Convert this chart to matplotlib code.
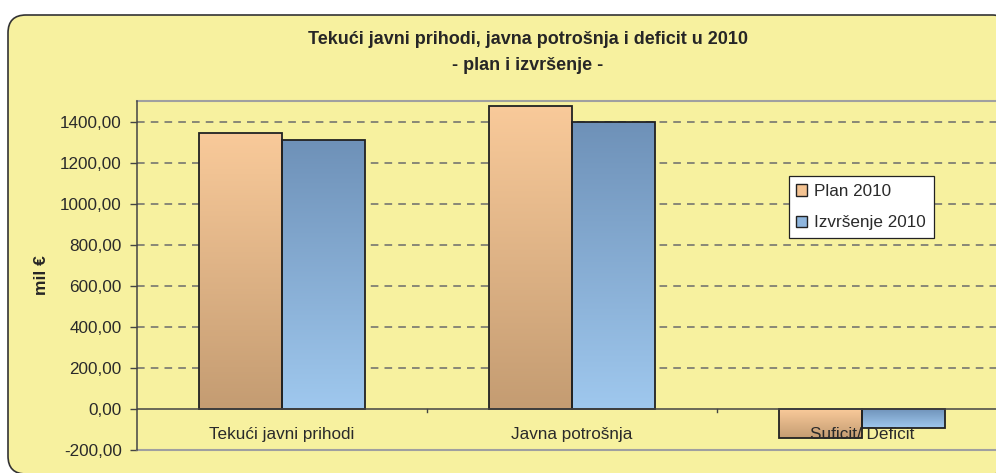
import numpy as np
import matplotlib
matplotlib.use('Agg')
import matplotlib.pyplot as plt
from matplotlib.patches import FancyBboxPatch, Patch
from matplotlib.colors import LinearSegmentedColormap

plt.rcParams['font.family'] = ['Liberation Sans', 'DejaVu Sans']

# data (mil EUR)
categories = ['Tekući javni prihodi', 'Javna potrošnja', 'Suficit/ Deficit']
plan_2010 = [1345, 1478, -140]
izvrsenje_2010 = [1312, 1398, -93]
series_names = ['Plan 2010', 'Izvršenje 2010']
y_ticks = [-200, 0, 200, 400, 600, 800, 1000, 1200, 1400]

W, H = 996, 473
fig = plt.figure(figsize=(W / 100, H / 100), dpi=100)
fig.patch.set_facecolor('white')

# rounded yellow chart area
bg = FancyBboxPatch((8, -1), 1002, 459, boxstyle='round,pad=0,rounding_size=18',
                    transform=None, facecolor='#f7f19f', edgecolor='#333333',
                    linewidth=1.2, zorder=-5)
fig.patches.append(bg)

ax = fig.add_axes([137 / W, 1 - 450 / H, 869.7 / W, 349 / H])
ax.set_facecolor('none')
ax.set_zorder(2)

plan_cmap = LinearSegmentedColormap.from_list('plan', ['#f9ca9a', '#c49c72'])
izv_cmap = LinearSegmentedColormap.from_list('izv', ['#6e91b8', '#9fc8ee'])


def gradient_bars(ax, x, heights, width, cmap):
    bars = ax.bar(x, heights, width=width, facecolor='none',
                  edgecolor='#222222', linewidth=1.3, zorder=3)
    grad = np.linspace(0, 1, 256).reshape(-1, 1)
    for b in bars:
        x0, y0 = b.get_x(), b.get_y()
        w, h = b.get_width(), b.get_height()
        top, bot = max(y0, y0 + h), min(y0, y0 + h)
        im = ax.imshow(grad, cmap=cmap, aspect='auto', origin='upper',
                       extent=[x0, x0 + w, bot, top], zorder=2)
        im.set_clip_path(b)
    return bars


xc = np.arange(len(categories))
bw = 0.286
gradient_bars(ax, xc - bw / 2, plan_2010, bw, plan_cmap)
gradient_bars(ax, xc + bw / 2, izvrsenje_2010, bw, izv_cmap)

ax.set_xlim(-0.5, len(categories) - 0.5)
ax.set_ylim(-200, 1500)

# dashed gridlines
for t in y_ticks:
    if t > 0:
        ax.axhline(t, color='#6b6b6b', linewidth=1.1, linestyle=(0, (5, 4)), zorder=1)
ax.axhline(0, color='#444444', linewidth=1.1, zorder=4)

ax.set_yticks(y_ticks)
ax.set_yticklabels(['{:.2f}'.format(t).replace('.', ',') for t in y_ticks])
ax.tick_params(axis='y', direction='out', length=5, width=1, color='#444444',
               labelsize=12.3, labelcolor='#2a2a2a', pad=6)
ax.set_xticks([])

# category boundary ticks on the zero line
for b in np.arange(0.5, len(categories) - 0.5, 1):
    ax.plot([b, b], [0, -14], color='#444444', linewidth=1, zorder=4)

for x, lab in zip(xc, categories):
    ax.annotate(lab, (x, 0), xytext=(0, -18.5), textcoords='offset points',
                ha='center', va='center', fontsize=12.3, color='#2a2a2a', zorder=6)

for side in ['top', 'bottom', 'right']:
    ax.spines[side].set_color('#a0a0a0')
    ax.spines[side].set_linewidth(1.5)
ax.spines['left'].set_color('#444444')
ax.spines['left'].set_linewidth(1.1)
ax.spines['left'].set_zorder(5)

fig.text(527.5 / W, 1 - 40 / H, 'Tekući javni prihodi, javna potrošnja i deficit u 2010',
         ha='center', va='center', fontsize=13, fontweight='bold', color='#262626')
fig.text(527.5 / W, 1 - 65.5 / H, '- plan i izvršenje -',
         ha='center', va='center', fontsize=13, fontweight='bold', color='#262626')
fig.text(41 / W, 1 - 275 / H, 'mil €', rotation=90, ha='center', va='center',
         fontsize=12.5, fontweight='bold', color='#262626')

handles = [Patch(facecolor='#f4c392', edgecolor='#222222', linewidth=1),
           Patch(facecolor='#8fb6de', edgecolor='#222222', linewidth=1)]
leg = ax.legend(handles, series_names, loc='upper left',
                bbox_to_anchor=(788.7 / W, 1 - 176.3 / H), bbox_transform=fig.transFigure,
                borderaxespad=0, fontsize=12.3, frameon=True, fancybox=False,
                framealpha=1, edgecolor='#222222', handlelength=0.65, handleheight=0.65,
                handletextpad=0.4, labelspacing=0.95, borderpad=0.45)
leg.get_frame().set_linewidth(0.9)
leg.set_zorder(7)
for t in leg.get_texts():
    t.set_color('#2a2a2a')

fig.savefig('out.png', dpi=100)
